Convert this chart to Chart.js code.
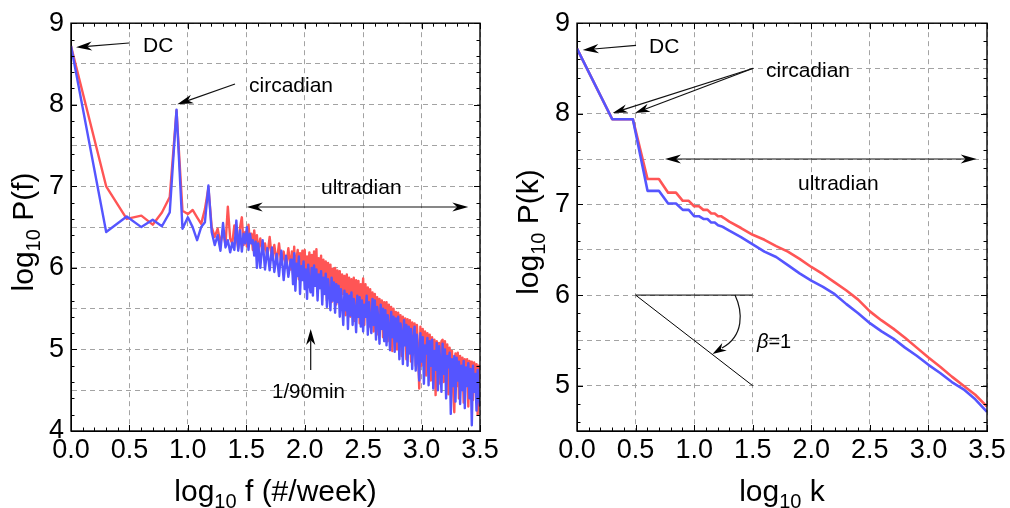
<!DOCTYPE html>
<html><head><meta charset="utf-8">
<script src="https://cdn.jsdelivr.net/npm/chart.js@4.4.1/dist/chart.umd.min.js"></script>
<style>
html,body{margin:0;padding:0;background:#fff;}
#wrap{display:flex;width:1010px;height:508px;}
.box{position:relative;width:505px;height:508px;}
canvas{display:block;}
</style>
</head><body>
<div id="wrap"><div class="box"><canvas id="c1" width="505" height="508"></canvas></div><div class="box"><canvas id="c2" width="505" height="508"></canvas></div></div>
<script>
// ---------- DATA ----------
const xTickValues = [0, 0.5, 1, 1.5, 2, 2.5, 3, 3.5];
const xTickLabels = ['0.0', '0.5', '1.0', '1.5', '2.0', '2.5', '3.0', '3.5'];
const leftYTickValues = [4, 4.5, 5, 5.5, 6, 6.5, 7, 7.5, 8, 8.5, 9];
const leftYTickLabels = ['4', '', '5', '', '6', '', '7', '', '8', '', '9'];
const rightYTickValues = [4.5, 5, 5.5, 6, 6.5, 7, 7.5, 8, 8.5, 9];
const rightYTickLabels = ['', '5', '', '6', '', '7', '', '8', '', '9'];

// Left panel: log10 f  vs  log10 P(f)
const leftX = [0, 0.301, 0.477, 0.602, 0.699, 0.778, 0.845, 0.903, 0.954, 1.0,
  1.041, 1.079, 1.114, 1.146, 1.176, 1.204, 1.230, 1.255, 1.279, 1.301,
  1.322, 1.342, 1.362, 1.380, 1.398, 1.415, 1.431, 1.447, 1.462, 1.477,
  1.491, 1.505, 1.519, 1.531, 1.544, 1.556, 1.568, 1.580, 1.591, 1.602,
  1.62, 1.64, 1.66, 1.68, 1.70, 1.72, 1.74, 1.76, 1.78, 1.80, 1.82, 1.84, 1.86, 1.88,
  1.89, 1.90, 1.91, 1.92, 1.93, 1.94, 1.95, 1.96, 1.97, 1.98,
  1.99, 2.00, 2.01, 2.02, 2.03, 2.04, 2.05, 2.06, 2.07, 2.08,
  2.09, 2.10, 2.11, 2.12, 2.13, 2.14, 2.15, 2.16, 2.17, 2.18,
  2.19, 2.20, 2.21, 2.22, 2.23, 2.24, 2.25, 2.26, 2.27, 2.28,
  2.29, 2.30, 2.31, 2.32, 2.33, 2.34, 2.35, 2.36, 2.37, 2.38,
  2.39, 2.40, 2.41, 2.42, 2.43, 2.44, 2.45, 2.46, 2.47, 2.48,
  2.49, 2.50, 2.51, 2.52, 2.53, 2.54, 2.55, 2.56, 2.57, 2.58,
  2.59, 2.60, 2.61, 2.62, 2.63, 2.64, 2.65, 2.66, 2.67, 2.68,
  2.69, 2.70, 2.71, 2.72, 2.73, 2.74, 2.75, 2.76, 2.77, 2.78,
  2.79, 2.80, 2.81, 2.82, 2.83, 2.84, 2.85, 2.86, 2.87, 2.88,
  2.89, 2.90, 2.91, 2.92, 2.93, 2.94, 2.95, 2.96, 2.97, 2.98,
  2.99, 3.00, 3.01, 3.02, 3.03, 3.04, 3.05, 3.06, 3.07, 3.08,
  3.09, 3.10, 3.11, 3.12, 3.13, 3.14, 3.15, 3.16, 3.17, 3.18,
  3.19, 3.20, 3.21, 3.22, 3.23, 3.24, 3.25, 3.26, 3.27, 3.28,
  3.29, 3.30, 3.31, 3.32, 3.33, 3.34, 3.35, 3.36, 3.37, 3.38,
  3.39, 3.40, 3.41, 3.42, 3.43, 3.44, 3.45, 3.46, 3.47, 3.48, 3.49, 3.50];
const leftRed = [8.72, 7.00, 6.60, 6.64, 6.53, 6.68, 6.87, 7.93, 6.70, 6.66,
  6.71, 6.62, 6.54, 6.72, 6.98, 6.50, 6.38, 6.48, 6.30, 6.46,
  6.28, 6.75, 6.36, 6.30, 6.52, 6.38, 6.24, 6.50, 6.62, 6.28,
  6.44, 6.26, 6.53, 6.30, 6.42, 6.22, 6.46, 6.24, 6.40, 6.20,
  6.36, 6.18, 6.30, 6.14, 6.38, 6.10, 6.28, 6.06, 6.30, 6.04, 6.20, 6.00, 6.24, 5.98,
  6.20, 5.92, 6.26, 5.88, 6.12, 6.22, 5.86, 6.18, 5.95, 6.21,
  5.90, 6.22, 5.78, 6.14, 5.95, 6.19, 5.72, 6.16, 5.85, 6.20,
  5.80, 6.23, 5.74, 6.12, 5.90, 6.15, 5.68, 6.10, 5.82, 6.08,
  5.60, 6.06, 5.75, 6.04, 5.58, 5.99, 5.78, 6.00, 5.55, 5.97,
  5.70, 5.96, 5.50, 5.92, 5.68, 5.90, 5.42, 5.92, 5.62, 5.88,
  5.40, 5.86, 5.60, 5.88, 5.35, 5.85, 5.55, 5.84, 5.32, 5.80,
  5.58, 5.87, 5.30, 5.80, 5.50, 5.76, 5.28, 5.74, 5.45, 5.70,
  5.22, 5.68, 5.45, 5.64, 5.18, 5.62, 5.40, 5.60, 5.15, 5.58,
  5.35, 5.58, 5.10, 5.55, 5.30, 5.52, 4.98, 5.50, 5.20, 5.46,
  5.00, 5.45, 5.20, 5.42, 4.92, 5.40, 5.15, 5.38, 4.88, 5.37,
  5.10, 5.36, 4.85, 5.33, 5.05, 5.32, 4.80, 5.30, 5.00, 4.52,
  5.28, 4.80, 5.25, 5.00, 5.22, 4.68, 5.20, 4.95, 5.18, 4.62,
  5.15, 4.85, 5.12, 4.44, 5.10, 4.75, 5.08, 4.58, 5.10, 5.12,
  4.60, 5.10, 4.82, 5.06, 4.45, 5.02, 4.70, 4.98, 4.50, 4.23,
  4.95, 4.55, 4.96, 4.40, 4.92, 4.62, 4.90, 4.35, 4.88, 4.60,
  4.88, 4.30, 4.86, 4.55, 4.85, 4.38, 4.84, 4.50, 4.82, 4.20, 4.80, 4.78];
const leftBlue = [8.72, 6.44, 6.63, 6.50, 6.59, 6.51, 6.68, 7.94, 6.48, 6.62,
  6.50, 6.34, 6.50, 6.56, 7.01, 6.44, 6.28, 6.40, 6.21, 6.55,
  6.25, 6.34, 6.19, 6.31, 6.22, 6.58, 6.21, 6.46, 6.20, 6.42,
  6.30, 6.50, 6.22, 6.42, 6.30, 6.34, 6.15, 6.32, 6.00, 6.30,
  6.00, 6.34, 5.98, 6.24, 5.97, 6.25, 5.95, 6.17, 5.90, 6.21, 5.85, 6.15, 5.89, 6.10,
  6.10, 5.80, 6.18, 5.72, 6.05, 5.90, 6.14, 5.68, 6.02, 5.85,
  6.08, 5.74, 5.98, 5.62, 6.04, 5.80, 5.70, 6.00, 5.66, 6.03,
  5.78, 5.98, 5.60, 5.92, 5.75, 5.96, 5.55, 5.88, 5.68, 5.93,
  5.52, 5.86, 5.70, 5.48, 5.88, 5.60, 5.82, 5.45, 5.80, 5.58,
  5.78, 5.40, 5.74, 5.55, 5.30, 5.72, 5.48, 5.68, 5.25, 5.66,
  5.42, 5.70, 5.30, 5.62, 5.50, 5.21, 5.66, 5.40, 5.64, 5.28,
  5.60, 5.22, 5.55, 5.40, 5.66, 5.18, 5.58, 5.35, 5.20, 5.62,
  5.30, 5.60, 5.12, 5.52, 5.38, 5.07, 5.55, 5.25, 5.50, 5.10,
  5.48, 5.05, 5.42, 5.28, 4.99, 5.46, 5.15, 5.40, 4.97, 5.38,
  5.10, 5.40, 4.88, 5.32, 5.20, 4.82, 5.36, 5.05, 5.30, 4.80,
  5.28, 4.95, 5.25, 4.76, 5.12, 5.28, 4.74, 5.18, 4.90, 4.62,
  5.20, 4.85, 5.15, 4.58, 5.05, 4.95, 5.14, 4.56, 5.10, 4.80,
  5.12, 4.52, 4.98, 4.75, 5.08, 4.50, 5.04, 4.85, 4.48, 5.07,
  4.70, 5.00, 4.40, 4.92, 4.78, 4.96, 4.21, 4.88, 4.55, 4.92,
  4.36, 4.90, 4.62, 4.85, 4.33, 4.80, 4.50, 4.86, 4.28, 4.78,
  4.55, 4.83, 4.40, 4.76, 4.07, 4.80, 4.48, 4.70, 4.25, 4.75, 4.40, 4.30];

// Right panel: log10 k  vs  log10 P(k)
const rankX = [0, 0.301, 0.477, 0.602, 0.699, 0.778, 0.845, 0.903, 0.954, 1.0,
  1.041, 1.079, 1.114, 1.146, 1.176, 1.204, 1.230, 1.255, 1.3, 1.4,
  1.5, 1.6, 1.7, 1.8, 1.9, 2.0, 2.1, 2.2, 2.3, 2.4,
  2.5, 2.6, 2.7, 2.8, 2.9, 3.0, 3.1, 3.2, 3.3, 3.4, 3.5];
const rankRed = [8.72, 7.94, 7.94, 7.28, 7.28, 7.13, 7.13, 7.04, 7.04, 6.98,
  6.98, 6.94, 6.94, 6.90, 6.90, 6.87, 6.87, 6.85, 6.81, 6.74,
  6.665, 6.61, 6.54, 6.48, 6.40, 6.31, 6.23, 6.14, 6.05, 5.95,
  5.82, 5.72, 5.63, 5.53, 5.42, 5.31, 5.21, 5.10, 5.00, 4.90, 4.77];
const rankBlue = [8.72, 7.94, 7.94, 7.15, 7.15, 7.01, 7.01, 6.94, 6.94, 6.87,
  6.87, 6.84, 6.84, 6.80, 6.80, 6.77, 6.76, 6.745, 6.71, 6.64,
  6.56, 6.48, 6.42, 6.33, 6.24, 6.16, 6.09, 6.01, 5.90, 5.80,
  5.69, 5.60, 5.52, 5.42, 5.33, 5.23, 5.14, 5.04, 4.96, 4.85, 4.71];
// slope guide (beta = 1)
const slopeX = [1.5, 0.5, 1.5];
const slopeY = [6, 6, 5];

// ---------- STYLE / HELPERS ----------
const RED = '#ff5555', BLUE = '#5555ff';
const FONT = '"Liberation Sans", Arial, Helvetica, sans-serif';
Chart.defaults.font.family = FONT;
Chart.defaults.color = '#000';

function pts(xs, ys) { return xs.map((x, i) => ({x: x, y: ys[i]})); }

function head(ctx, x, y, ang, L, W) {
  L = L || 16; W = W || 4.6;
  ctx.save(); ctx.translate(x, y); ctx.rotate(ang);
  ctx.beginPath(); ctx.moveTo(0, 0); ctx.lineTo(-L, W); ctx.lineTo(-L * 0.7, 0); ctx.lineTo(-L, -W); ctx.closePath();
  ctx.fill(); ctx.restore();
}
function arrow(ctx, x1, y1, x2, y2, L, W) {
  const a = Math.atan2(y2 - y1, x2 - x1);
  const l = (L || 16) * 0.7;
  ctx.beginPath(); ctx.moveTo(x1, y1); ctx.lineTo(x2 - l * Math.cos(a), y2 - l * Math.sin(a)); ctx.stroke();
  head(ctx, x2, y2, a, L, W);
}
function dblArrow(ctx, x1, y, x2) {
  ctx.beginPath(); ctx.moveTo(x1 + 11, y); ctx.lineTo(x2 - 11, y); ctx.stroke();
  head(ctx, x2, y, 0); head(ctx, x1, y, Math.PI);
}
function text(ctx, s, x, y, size, style) {
  ctx.font = (style || '') + ' ' + size + 'px ' + FONT;
  ctx.textAlign = 'left'; ctx.textBaseline = 'alphabetic';
  ctx.fillText(s, x, y);
  return ctx.measureText(s).width;
}
function subTitle(ctx, parts, cx, cy, rot) {
  ctx.save();
  ctx.translate(cx, cy); if (rot) ctx.rotate(-Math.PI / 2);
  ctx.textBaseline = 'alphabetic'; ctx.textAlign = 'left';
  let tot = 0;
  parts.forEach(p => { ctx.font = p[1] + 'px ' + FONT; tot += ctx.measureText(p[0]).width; });
  let x = -tot / 2;
  parts.forEach(p => { ctx.font = p[1] + 'px ' + FONT; ctx.fillText(p[0], x, p[2]); x += ctx.measureText(p[0]).width; });
  ctx.restore();
}

function decoPlugin(yMinorStart, drawAnn, xTitle, yTitle) {
  return {
    id: 'deco',
    afterDraw(chart) {
      const ctx = chart.ctx, a = chart.chartArea, sx = chart.scales.x, sy = chart.scales.y;
      ctx.save();
      ctx.strokeStyle = '#000'; ctx.fillStyle = '#000'; ctx.lineWidth = 1;
      // minor / major ticks, inward on all four sides
      for (let i = 0; i <= 35; i++) {
        const v = i / 10, px = Math.round(sx.getPixelForValue(v)) + 0.5;
        const len = (i % 5 === 0) ? 6 : 3.5;
        ctx.beginPath();
        ctx.moveTo(px, a.bottom); ctx.lineTo(px, a.bottom - len);
        ctx.moveTo(px, a.top); ctx.lineTo(px, a.top + len);
        ctx.stroke();
      }
      for (let i = Math.round(yMinorStart * 5); i <= 45; i++) {
        const v = i / 5, py = Math.round(sy.getPixelForValue(v)) + 0.5;
        const len = (i % 5 === 0) ? 6 : 3.5;
        ctx.beginPath();
        ctx.moveTo(a.left, py); ctx.lineTo(a.left + len, py);
        ctx.moveTo(a.right, py); ctx.lineTo(a.right - len, py);
        ctx.stroke();
      }
      // frame
      ctx.lineWidth = 1.4;
      ctx.strokeRect(a.left, a.top, a.right - a.left, a.bottom - a.top);
      // annotations
      ctx.lineWidth = 1.2; ctx.strokeStyle = '#111'; ctx.fillStyle = '#000';
      drawAnn(ctx, chart);
      // axis titles
      ctx.fillStyle = '#000';
      subTitle(ctx, xTitle, (a.left + a.right) / 2, 501, false);
      subTitle(ctx, yTitle, 33, 232, true);
      ctx.restore();
    }
  };
}

function makeChart(id, datasets, yMin, yVals, yLabs, rightPad, yWidth, plugin) {
  return new Chart(document.getElementById(id), {
    type: 'line',
    data: {datasets: datasets},
    options: {
      responsive: false, animation: false, devicePixelRatio: 1,
      layout: {padding: {left: 0, right: rightPad, top: 23, bottom: 0}},
      plugins: {legend: {display: false}, tooltip: {enabled: false}, title: {display: false}},
      elements: {point: {radius: 0}, line: {tension: 0, borderJoinStyle: 'round'}},
      scales: {
        x: {
          type: 'linear', min: 0, max: 3.5,
          afterBuildTicks: s => { s.ticks = xTickValues.map(v => ({value: v})); },
          afterFit: s => { s.height = 77; },
          ticks: {callback: (v, i) => xTickLabels[i], font: {size: 27}, color: '#000', padding: 3, maxRotation: 0, autoSkip: false},
          grid: {color: '#a3a3a3', lineWidth: 1, drawTicks: false},
          border: {display: true, color: '#000', width: 1, dash: [5, 4]}
        },
        y: {
          type: 'linear', min: yMin, max: 9,
          afterBuildTicks: s => { s.ticks = yVals.map(v => ({value: v})); },
          afterFit: s => { s.width = yWidth; },
          ticks: {callback: (v, i) => yLabs[i], font: {size: 27}, color: '#000', padding: 7, autoSkip: false},
          grid: {color: '#a3a3a3', lineWidth: 1, drawTicks: false},
          border: {display: true, color: '#000', width: 1, dash: [5, 4]}
        }
      }
    },
    plugins: [plugin]
  });
}

// ---------- LEFT ----------
makeChart('c1', [
  {data: pts(leftX, leftRed), borderColor: RED, borderWidth: 2.4, order: 1},
  {data: pts(leftX, leftBlue), borderColor: BLUE, borderWidth: 2.4, order: 0}
], 4, leftYTickValues, leftYTickLabels, 25, 71,
decoPlugin(4, function (ctx) {
  arrow(ctx, 129, 43, 76, 47.3);
  text(ctx, 'DC', 143, 52, 21);
  arrow(ctx, 235, 84, 177.3, 104.3);
  text(ctx, 'circadian', 249, 91.5, 21);
  dblArrow(ctx, 246.7, 207, 468.3);
  text(ctx, 'ultradian', 321, 194, 21);
  arrow(ctx, 310.7, 370, 310.7, 329);
  text(ctx, '1/90min', 272, 398, 20.5);
}, [['log', 30, 0], ['10', 20, 7], [' f (#/week)', 30, 0]], [['log', 30, 0], ['10', 20, 7], [' P(f)', 30, 0]]));

// ---------- RIGHT ----------
makeChart('c2', [
  {data: pts(slopeX, slopeY), borderColor: '#000', borderWidth: 1, order: 2},
  {data: pts(rankX, rankRed), borderColor: RED, borderWidth: 2.6, order: 1},
  {data: pts(rankX, rankBlue), borderColor: BLUE, borderWidth: 2.6, order: 0}
], 4.5, rightYTickValues, rightYTickLabels, 23, 72,
decoPlugin(4.6, function (ctx) {
  arrow(ctx, 131, 45.3, 77.7, 50);
  text(ctx, 'DC', 144, 53, 21);
  arrow(ctx, 248.3, 68.3, 107.7, 113, 15, 4.2);
  arrow(ctx, 248.3, 68.3, 130, 113, 15, 4.2);
  text(ctx, 'circadian', 261, 76.7, 21);
  dblArrow(ctx, 160, 159, 471.7);
  text(ctx, 'ultradian', 293, 190, 21);
  // curved arrow for beta
  ctx.beginPath(); ctx.moveTo(230, 295); ctx.bezierCurveTo(238, 312, 239, 336, 217, 348); ctx.stroke();
  head(ctx, 207.5, 354, Math.atan2(354 - 348, 207.5 - 217.5), 14, 4.4);
  const w = text(ctx, 'β', 252, 348, 20, 'italic');
  text(ctx, '=1', 252 + w, 348, 20);
}, [['log', 30, 0], ['10', 20, 7], [' k', 30, 0]], [['log', 30, 0], ['10', 20, 7], [' P(k)', 30, 0]]));
</script>
</body></html>
